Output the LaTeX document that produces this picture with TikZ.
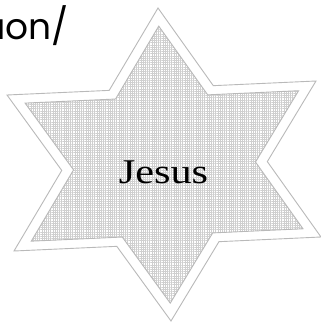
\documentclass[tikz,border=0pt]{standalone}
\usepackage{fontspec}
\setmainfont{Liberation Serif}
\newfontfamily\jfont[FakeStretch=1.22]{Liberation Serif}
\newfontfamily\tfont{Poppins}
\usetikzlibrary{patterns.meta,calc}
\tikzset{
  starline/.style={draw=gray!55, line width=0.9pt, line join=miter},
  hgrid/.style={pattern={Lines[angle=0,distance=2.2pt,line width=0.4pt]}, pattern color=gray!38},
  vgrid/.style={pattern={Lines[angle=90,distance=2.2pt,line width=0.4pt]}, pattern color=gray!38},
}
\begin{document}
\begin{tikzpicture}[x=1pt,y=-1pt]
\useasboundingbox (0,0) rectangle (321,322);
\clip (0,0) rectangle (321,322);
% outer tips
\coordinate (C) at (164.5,165.5);
\coordinate (T) at (158,8);
\coordinate (LR) at (321,237);
\coordinate (LL) at (14,251);
\coordinate (UL) at (7,95);
\coordinate (UR) at (316,81);
\coordinate (B) at (171,321);
% outer notches
\coordinate (n1) at (intersection of T--LR and UL--UR);
\coordinate (n2) at (intersection of T--LR and UR--B);
\coordinate (n3) at (intersection of LL--LR and UR--B);
\coordinate (n4) at (intersection of LL--LR and UL--B);
\coordinate (n5) at (intersection of T--LL and UL--B);
\coordinate (n6) at (intersection of T--LL and UL--UR);
% inner star (scaled about centre)
\foreach \p in {T,n1,UR,n2,LR,n3,B,n4,LL,n5,UL,n6}{
  \coordinate (i\p) at ($(C)!0.885!(\p)$);
}
\fill[white] (T) -- (n1) -- (UR) -- (n2) -- (LR) -- (n3) -- (B) -- (n4) -- (LL) -- (n5) -- (UL) -- (n6) -- cycle;
\path[starline] (T) -- (n1) -- (UR) -- (n2) -- (LR) -- (n3) -- (B) -- (n4) -- (LL) -- (n5) -- (UL) -- (n6) -- cycle;
\fill[hgrid] (iT) -- (in1) -- (iUR) -- (in2) -- (iLR) -- (in3) -- (iB) -- (in4) -- (iLL) -- (in5) -- (iUL) -- (in6) -- cycle;
\fill[vgrid] (iT) -- (in1) -- (iUR) -- (in2) -- (iLR) -- (in3) -- (iB) -- (in4) -- (iLL) -- (in5) -- (iUL) -- (in6) -- cycle;
\path[starline] (iT) -- (in1) -- (iUR) -- (in2) -- (iLR) -- (in3) -- (iB) -- (in4) -- (iLL) -- (in5) -- (iUL) -- (in6) -- cycle;
% texts
\node[anchor=base, inner sep=0pt] (jesus) at (163.5,183) {\jfont\fontsize{34.7}{40}\selectfont Jesus};
\node[anchor=base west, inner sep=0pt] (title) at (-19,39) {\tfont\fontsize{36}{40}\selectfont aon/};
\end{tikzpicture}
\end{document}
